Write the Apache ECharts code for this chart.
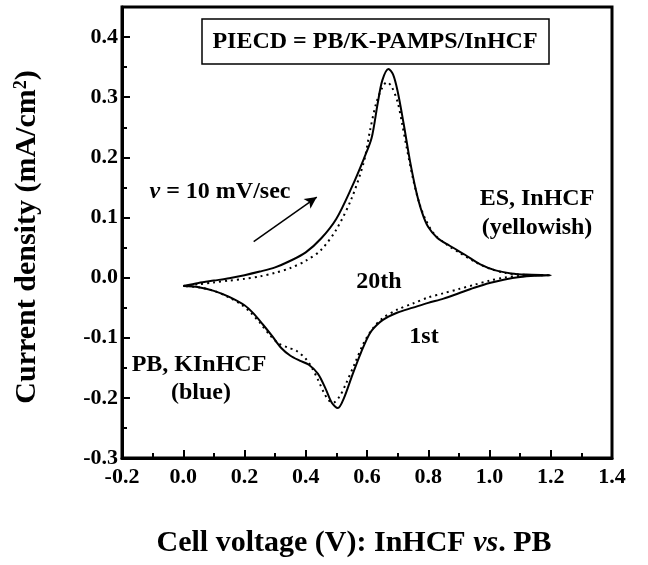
<!DOCTYPE html>
<html>
<head>
<meta charset="utf-8">
<script src="https://cdn.jsdelivr.net/npm/echarts@6/dist/echarts.min.js"></script>
<style>
  html, body { margin: 0; padding: 0; background: #fff; }
  #chart { width: 648px; height: 565px; }
</style>
</head>
<body>
<div id="chart"></div>
<script>
// cell voltage (V) and current density (mA/cm2), anodic sweep 0 -> 1.2 then cathodic sweep back to 0
const firstX = [0.00, 0.05, 0.10, 0.15, 0.20, 0.25, 0.30, 0.35, 0.40, 0.45, 0.50, 0.55, 0.59, 0.615, 0.635, 0.65, 0.67, 0.685, 0.70, 0.72, 0.74, 0.76, 0.78, 0.80, 0.83, 0.87, 0.92, 0.97, 1.02, 1.07, 1.12, 1.20,
  1.15, 1.10, 1.05, 1.00, 0.95, 0.90, 0.85, 0.80, 0.75, 0.70, 0.67, 0.64, 0.61, 0.58, 0.55, 0.525, 0.505, 0.485, 0.465, 0.44, 0.41, 0.38, 0.35, 0.32, 0.29, 0.26, 0.23, 0.20, 0.15, 0.10, 0.05, 0.00]
const firstY = [-0.014, -0.009, -0.005, -0.001, 0.004, 0.010, 0.017, 0.028, 0.042, 0.065, 0.098, 0.150, 0.198, 0.232, 0.290, 0.328, 0.347, 0.338, 0.310, 0.255, 0.195, 0.145, 0.108, 0.084, 0.066, 0.053, 0.038, 0.022, 0.012, 0.007, 0.005, 0.004,
  0.003, 0.001, -0.003, -0.009, -0.017, -0.026, -0.035, -0.042, -0.050, -0.058, -0.065, -0.075, -0.092, -0.125, -0.165, -0.200, -0.217, -0.208, -0.185, -0.160, -0.145, -0.138, -0.130, -0.117, -0.097, -0.078, -0.060, -0.046, -0.032, -0.022, -0.016, -0.014]

const twentiethX = [0.00, 0.05, 0.10, 0.15, 0.20, 0.25, 0.30, 0.35, 0.40, 0.45, 0.50, 0.55, 0.59, 0.61, 0.63, 0.65, 0.665, 0.68, 0.70, 0.715, 0.73, 0.75, 0.77, 0.79, 0.82, 0.86, 0.90, 0.95, 1.00, 1.05, 1.10, 1.20,
  1.15, 1.10, 1.05, 1.00, 0.95, 0.90, 0.85, 0.80, 0.75, 0.70, 0.65, 0.62, 0.59, 0.56, 0.53, 0.51, 0.49, 0.475, 0.46, 0.44, 0.42, 0.40, 0.37, 0.34, 0.31, 0.28, 0.25, 0.22, 0.19, 0.15, 0.10, 0.05, 0.00]
const twentiethY = [-0.014, -0.011, -0.008, -0.005, -0.002, 0.002, 0.008, 0.016, 0.028, 0.046, 0.080, 0.132, 0.193, 0.245, 0.290, 0.316, 0.325, 0.318, 0.292, 0.255, 0.215, 0.165, 0.125, 0.098, 0.072, 0.055, 0.042, 0.027, 0.015, 0.008, 0.005, 0.004,
  0.004, 0.003, 0.000, -0.005, -0.012, -0.019, -0.026, -0.033, -0.043, -0.053, -0.068, -0.084, -0.108, -0.143, -0.178, -0.198, -0.208, -0.204, -0.192, -0.170, -0.150, -0.135, -0.122, -0.116, -0.109, -0.094, -0.075, -0.058, -0.045, -0.033, -0.022, -0.016, -0.014]

// scan-direction arrow, in data units
const arrowFrom = [0.23, 0.06]
const arrowTo = [0.436, 0.134]

const FONT = '"Liberation Serif", "Times New Roman", serif'
const font = (size, style = '') => `${style} bold ${size}px ${FONT}`.trim()

const zip = (xs, ys) => xs.map((x, i) => [x, ys[i]])

const chart = echarts.init(document.getElementById('chart'), null, { renderer: 'canvas' })

const tickLabel = { color: '#000', fontSize: 22, fontWeight: 'bold', fontFamily: FONT }

chart.setOption({
  animation: false,
  grid: { left: 122, right: 36, top: 7, bottom: 107, show: true, borderColor: '#000', borderWidth: 3 },
  xAxis: {
    type: 'value', min: -0.2, max: 1.4, interval: 0.2,
    axisLine: { onZero: false, lineStyle: { color: '#000', width: 3 } },
    axisTick: { inside: true, length: 8, lineStyle: { color: '#000', width: 2 } },
    minorTick: { show: true, splitNumber: 2, length: 5, lineStyle: { color: '#000', width: 2 } },
    axisLabel: { ...tickLabel, margin: 8, formatter: v => v.toFixed(1) },
    splitLine: { show: false },
  },
  yAxis: [{
    type: 'value', min: -0.3, max: 0.45, interval: 0.1,
    axisLine: { onZero: false, lineStyle: { color: '#000', width: 3 } },
    axisTick: { inside: true, length: 8, lineStyle: { color: '#000', width: 2 } },
    axisLabel: { ...tickLabel, margin: 4, formatter: v => (v > 0.42 ? '' : v.toFixed(1)) },
    splitLine: { show: false },
  }, {
    // minor ticks every 0.05
    type: 'value', position: 'left', min: -0.3, max: 0.45, interval: 0.05,
    axisLine: { show: false, onZero: false },
    axisTick: { inside: true, length: 5, lineStyle: { color: '#000', width: 2 } },
    axisLabel: { show: false },
    splitLine: { show: false },
  }],
  series: [{
    name: '1st',
    type: 'line',
    data: zip(firstX, firstY),
    showSymbol: false,
    smooth: 0.3,
    lineStyle: { color: '#000', width: 2 },
    markLine: {
      silent: true,
      symbol: ['none', 'arrow'],
      symbolSize: [9, 12],
      label: { show: false },
      lineStyle: { color: '#000', width: 1.5, type: 'solid' },
      data: [[{ coord: arrowFrom }, { coord: arrowTo }]],
    },
  }, {
    name: '20th',
    type: 'line',
    data: zip(twentiethX, twentiethY),
    showSymbol: false,
    smooth: 0.3,
    lineStyle: { color: '#000', width: 2, type: [2, 4] },
  }],
  graphic: [
    { type: 'rect', shape: { x: 202, y: 19, width: 347, height: 45 }, style: { fill: '#fff', stroke: '#000', lineWidth: 1.5 }, z: 10 },
    { type: 'text', x: 375, y: 42, z: 11, style: { text: 'PIECD = PB/K-PAMPS/InHCF', font: font(24), fill: '#000', align: 'center', verticalAlign: 'middle' } },
    { type: 'text', x: 220, y: 192, style: { text: '{i|v} = 10 mV/sec', font: font(24), fill: '#000', align: 'center', verticalAlign: 'middle', rich: { i: { font: font(24, 'italic'), fill: '#000' } } } },
    { type: 'text', x: 537, y: 199, style: { text: 'ES, InHCF', font: font(24), fill: '#000', align: 'center', verticalAlign: 'middle' } },
    { type: 'text', x: 537, y: 228, style: { text: '(yellowish)', font: font(24), fill: '#000', align: 'center', verticalAlign: 'middle' } },
    { type: 'text', x: 379, y: 282, style: { text: '20th', font: font(24), fill: '#000', align: 'center', verticalAlign: 'middle' } },
    { type: 'text', x: 424, y: 337, style: { text: '1st', font: font(24), fill: '#000', align: 'center', verticalAlign: 'middle' } },
    { type: 'text', x: 199, y: 365, style: { text: 'PB, KInHCF', font: font(24), fill: '#000', align: 'center', verticalAlign: 'middle' } },
    { type: 'text', x: 201, y: 393, style: { text: '(blue)', font: font(24), fill: '#000', align: 'center', verticalAlign: 'middle' } },
    { type: 'text', x: 354, y: 543, style: { text: 'Cell voltage (V): InHCF {i|vs}. PB', font: font(30), fill: '#000', align: 'center', verticalAlign: 'middle', rich: { i: { font: font(30, 'italic'), fill: '#000' } } } },
    { type: 'text', x: 27, y: 237, rotation: Math.PI / 2, style: { text: 'Current density (mA/cm{sup|2})', font: font(30), fill: '#000', align: 'center', verticalAlign: 'middle', rich: { sup: { font: font(18), fill: '#000', verticalAlign: 'top' } } } },
  ],
})
</script>
</body>
</html>
